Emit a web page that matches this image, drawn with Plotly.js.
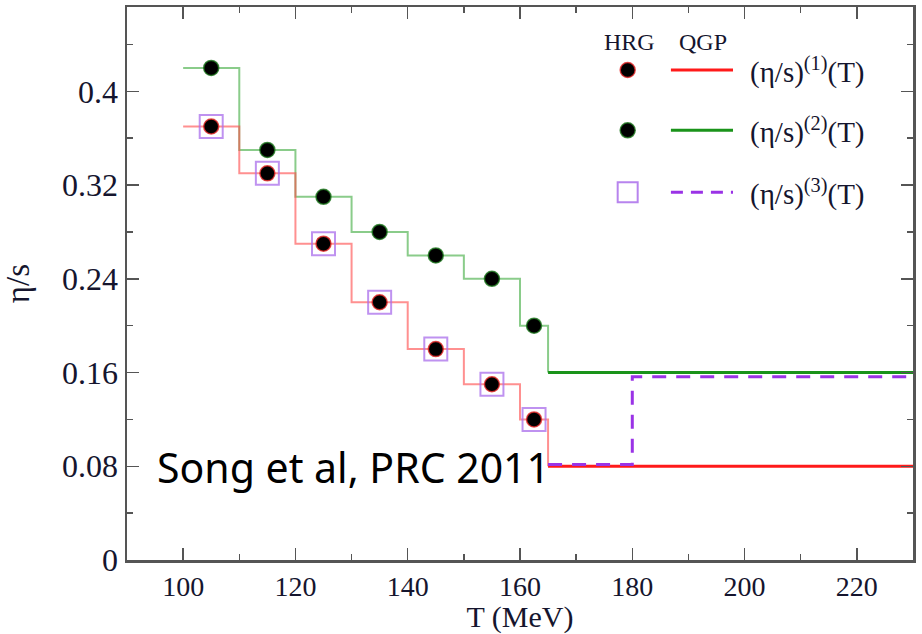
<!DOCTYPE html>
<html>
<head>
<meta charset="utf-8">
<script src="https://cdn.plot.ly/plotly-3.0.1.min.js"></script>
<style>html,body{margin:0;padding:0;background:#fff;}#chart{width:922px;height:634px;}</style>
</head>
<body>
<div id="chart"></div>
<script>
// ---- data ----
const T_hrg = [105, 115, 125, 135, 145, 155, 162.5];
const eta1_hrg = [0.37, 0.33, 0.27, 0.22, 0.18, 0.15, 0.12];
const eta2_hrg = [0.42, 0.35, 0.31, 0.28, 0.26, 0.24, 0.20];
const T_edges = [100, 110, 120, 130, 140, 150, 160, 165];
const T_qgp = [165, 230];
const eta1_qgp = [0.08, 0.08];
const eta2_qgp = [0.16, 0.16];
const T_qgp3 = [165, 180, 180, 230];
const eta3_qgp = [0.0815, 0.0815, 0.1565, 0.1565];
const xTicks = [100, 120, 140, 160, 180, 200, 220];
const yTicks = [0, 0.08, 0.16, 0.24, 0.32, 0.4];
const yTickText = ["0", "0.08", "0.16", "0.24", "0.32", "0.4"];
const legendNames = ["(η/s)<sup>(1)</sup>(T)", "(η/s)<sup>(2)</sup>(T)", "(η/s)<sup>(3)</sup>(T)"];
const annotationText = "Song et al, PRC 2011";

// step paths for HRG region (end with drop into QGP value at Tc)
const stepX = T_edges.concat([T_edges[T_edges.length - 1]]);
const step1Y = eta1_hrg.concat([eta1_hrg[eta1_hrg.length - 1], eta1_qgp[0]]);
const step2Y = eta2_hrg.concat([eta2_hrg[eta2_hrg.length - 1], eta2_qgp[0]]);

const RED = '#ff1a1a', GREEN = '#1a931a', PURPLE = '#9a33e6';
const serif = 'Liberation Serif, Times New Roman, serif';
const TXT = '#15152e';

const traces = [
  {x: stepX, y: step2Y, mode: 'lines', line: {shape: 'hv', color: 'rgba(60,170,60,0.6)', width: 2}, hoverinfo: 'skip'},
  {x: stepX, y: step1Y, mode: 'lines', line: {shape: 'hv', color: 'rgba(255,70,70,0.6)', width: 2}, hoverinfo: 'skip'},
  {x: T_qgp, y: eta2_qgp, mode: 'lines', line: {color: GREEN, width: 3}},
  {x: T_qgp, y: eta1_qgp, mode: 'lines', line: {color: RED, width: 3}},
  {x: T_qgp3, y: eta3_qgp, mode: 'lines', line: {color: PURPLE, width: 3, dash: '14px,10px'}},
  {x: T_hrg, y: eta1_hrg, mode: 'markers', marker: {symbol: 'square-open', size: 23, color: 'rgba(170,110,235,0.75)', line: {width: 2}}},
  {x: T_hrg, y: eta2_hrg, mode: 'markers', marker: {symbol: 'circle', size: 15, color: '#000', line: {color: 'rgba(30,120,30,0.8)', width: 1.5}}},
  {x: T_hrg, y: eta1_hrg, mode: 'markers', marker: {symbol: 'circle', size: 15, color: '#000', line: {color: 'rgba(230,40,40,0.8)', width: 1.5}}},
  // legend glyph markers on an overlay paper-like axis
  {x: [0.637, 0.637], y: [0.886, 0.777], xaxis: 'x2', yaxis: 'y2', mode: 'markers',
   marker: {symbol: 'circle', size: 15, color: '#000', line: {color: ['rgba(230,40,40,0.8)', 'rgba(30,120,30,0.8)'], width: 1.5}}},
  {x: [0.637], y: [0.665], xaxis: 'x2', yaxis: 'y2', mode: 'markers',
   marker: {symbol: 'square-open', size: 20, color: 'rgba(170,110,235,0.85)', line: {width: 2}}}
];

const axisCommon = {
  showgrid: false, zeroline: false, showline: true, linecolor: '#555', linewidth: 2.5,
  mirror: 'ticks', ticks: 'inside', ticklen: 12, tickwidth: 1.5, tickcolor: '#555',
  tickfont: {family: serif, size: 32, color: TXT}
};

const layout = {
  width: 922, height: 634,
  margin: {l: 127, r: 9, t: 7, b: 74},
  paper_bgcolor: '#fff', plot_bgcolor: '#fff',
  showlegend: false,
  xaxis: Object.assign({}, axisCommon, {
    range: [90, 230], tickvals: xTicks, ticktext: xTicks.map(String),
    tickfont: {family: serif, size: 28, color: TXT},
    minor: {ticks: 'inside', ticklen: 6, dtick: 10, tick0: 90, tickcolor: '#555', tickwidth: 1.5},
    title: {text: 'T (MeV)', font: {family: serif, size: 30, color: TXT}, standoff: 0}
  }),
  yaxis: Object.assign({}, axisCommon, {
    range: [0, 0.472], tickvals: yTicks, ticktext: yTickText,
    minor: {ticks: 'inside', ticklen: 6, dtick: 0.04, tick0: 0, tickcolor: '#555', tickwidth: 1.5},
    title: {text: 'η/s', font: {family: serif, size: 33, color: TXT}, standoff: 28}
  }),
  xaxis2: {domain: [0, 1], range: [0, 1], overlaying: 'x', visible: false, fixedrange: true},
  yaxis2: {domain: [0, 1], range: [0, 1], overlaying: 'y', visible: false, fixedrange: true},
  shapes: [
    {type: 'line', xref: 'paper', yref: 'paper', x0: 0.692, x1: 0.771, y0: 0.886, y1: 0.886, line: {color: RED, width: 3}},
    {type: 'line', xref: 'paper', yref: 'paper', x0: 0.692, x1: 0.771, y0: 0.777, y1: 0.777, line: {color: GREEN, width: 3}},
    {type: 'line', xref: 'paper', yref: 'paper', x0: 0.692, x1: 0.771, y0: 0.665, y1: 0.665, line: {color: PURPLE, width: 3, dash: '12px,8px'}}
  ],
  annotations: [
    {xref: 'paper', yref: 'paper', x: 0.639, y: 0.937, xanchor: 'center', yanchor: 'middle', text: 'HRG', showarrow: false, font: {family: serif, size: 24, color: TXT}},
    {xref: 'paper', yref: 'paper', x: 0.733, y: 0.937, xanchor: 'center', yanchor: 'middle', text: 'QGP', showarrow: false, font: {family: serif, size: 24, color: TXT}},
    {xref: 'paper', yref: 'paper', x: 0.790, y: 0.886, xanchor: 'left', yanchor: 'middle', text: legendNames[0], showarrow: false, font: {family: serif, size: 29, color: TXT}},
    {xref: 'paper', yref: 'paper', x: 0.790, y: 0.777, xanchor: 'left', yanchor: 'middle', text: legendNames[1], showarrow: false, font: {family: serif, size: 29, color: TXT}},
    {xref: 'paper', yref: 'paper', x: 0.790, y: 0.665, xanchor: 'left', yanchor: 'middle', text: legendNames[2], showarrow: false, font: {family: serif, size: 29, color: TXT}},
    {xref: 'paper', yref: 'paper', x: 0.0356, y: 0.168, xanchor: 'left', yanchor: 'middle', text: annotationText, showarrow: false, font: {family: 'Noto Sans, sans-serif', size: 41, color: '#000'}}
  ]
};

Plotly.newPlot('chart', traces, layout, {displayModeBar: false, staticPlot: true});
</script>
</body>
</html>
